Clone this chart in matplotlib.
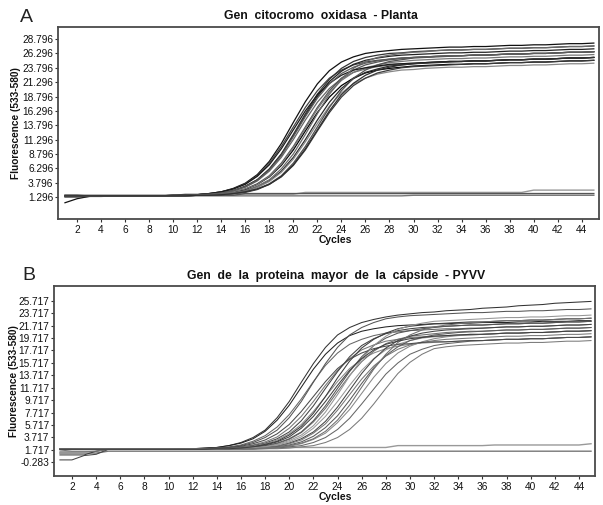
import matplotlib
matplotlib.use('Agg')
import matplotlib.pyplot as plt

# ---------------- data ----------------
cycles = list(range(1, 46))
x_ticks = [2, 4, 6, 8, 10, 12, 14, 16, 18, 20, 22, 24, 26, 28, 30, 32, 34, 36, 38, 40, 42, 44]
y_ticks_A = [1.296, 3.796, 6.296, 8.796, 11.296, 13.796, 16.296, 18.796, 21.296, 23.796, 26.296, 28.796]
y_ticks_B = [-0.283, 1.717, 3.717, 5.717, 7.717, 9.717, 11.717, 13.717, 15.717, 17.717, 19.717, 21.717, 23.717, 25.717]

title_A = "Gen  citocromo  oxidasa  - Planta"
title_B = "Gen  de  la  proteina  mayor  de  la  cápside  - PYVV"
y_label = "Fluorescence (533-580)"
x_label = "Cycles"

# amplification curves, panel A (one value per cycle 1..45)
curves_A = [
    [0.3, 1.0, 1.4, 1.5, 1.5, 1.5, 1.5, 1.5, 1.5, 1.6, 1.6, 1.7, 1.9, 2.2, 2.8, 3.7, 5.2, 7.5, 10.6, 14.3,
     17.9, 21.0, 23.3, 24.8, 25.7, 26.3, 26.6, 26.8, 27.0, 27.1, 27.2, 27.3, 27.4, 27.4, 27.5, 27.5, 27.6, 27.7, 27.7, 27.8,
     27.8, 27.9, 28.0, 28.0, 28.1],
    [1.5, 1.5, 1.5, 1.5, 1.5, 1.5, 1.5, 1.5, 1.5, 1.6, 1.6, 1.7, 1.9, 2.2, 2.7, 3.6, 5.0, 7.2, 10.1, 13.5,
     16.9, 19.8, 22.0, 23.4, 24.3, 24.8, 25.1, 25.3, 25.5, 25.6, 25.7, 25.8, 25.9, 25.9, 26.0, 26.0, 26.1, 26.2, 26.2, 26.3,
     26.3, 26.4, 26.5, 26.5, 26.6],
    [1.6, 1.6, 1.5, 1.5, 1.5, 1.5, 1.5, 1.5, 1.5, 1.5, 1.6, 1.7, 1.8, 2.0, 2.4, 3.1, 4.3, 6.1, 8.7, 12.0,
     15.5, 18.8, 21.4, 23.2, 24.4, 25.1, 25.5, 25.8, 26.0, 26.1, 26.2, 26.3, 26.4, 26.4, 26.5, 26.5, 26.6, 26.7, 26.7, 26.8,
     26.8, 26.9, 27.0, 27.0, 27.1],
    [1.5, 1.5, 1.5, 1.5, 1.5, 1.5, 1.5, 1.5, 1.5, 1.5, 1.6, 1.7, 1.8, 2.0, 2.4, 3.0, 4.1, 5.8, 8.2, 11.3,
     14.7, 17.8, 20.2, 21.9, 23.0, 23.6, 24.0, 24.3, 24.5, 24.6, 24.7, 24.8, 24.9, 24.9, 25.0, 25.0, 25.1, 25.2, 25.2, 25.3,
     25.3, 25.4, 25.5, 25.5, 25.6],
    [1.3, 1.3, 1.4, 1.5, 1.5, 1.5, 1.5, 1.5, 1.5, 1.5, 1.6, 1.7, 1.8, 2.0, 2.4, 3.2, 4.3, 6.2, 8.8, 12.2,
     15.8, 19.2, 21.8, 23.7, 24.9, 25.6, 26.0, 26.3, 26.4, 26.6, 26.7, 26.8, 26.9, 26.9, 27.0, 27.0, 27.1, 27.2, 27.2, 27.3,
     27.3, 27.4, 27.5, 27.5, 27.6],
    [1.5, 1.5, 1.5, 1.5, 1.5, 1.5, 1.5, 1.5, 1.5, 1.5, 1.6, 1.6, 1.7, 1.9, 2.2, 2.7, 3.6, 5.0, 7.2, 10.1,
     13.5, 16.9, 19.8, 22.0, 23.4, 24.3, 24.8, 25.2, 25.4, 25.6, 25.7, 25.8, 25.9, 25.9, 26.0, 26.0, 26.1, 26.2, 26.2, 26.3,
     26.3, 26.4, 26.5, 26.5, 26.6],
    [1.5, 1.5, 1.5, 1.5, 1.5, 1.5, 1.5, 1.5, 1.5, 1.5, 1.6, 1.6, 1.7, 1.9, 2.1, 2.6, 3.5, 4.8, 6.8, 9.5,
     12.8, 16.0, 18.7, 20.7, 22.0, 22.9, 23.4, 23.7, 23.9, 24.1, 24.2, 24.3, 24.4, 24.4, 24.5, 24.5, 24.6, 24.7, 24.7, 24.8,
     24.8, 24.9, 25.0, 25.0, 25.1],
    [1.5, 1.5, 1.5, 1.5, 1.5, 1.5, 1.5, 1.5, 1.5, 1.5, 1.6, 1.6, 1.7, 1.9, 2.2, 2.7, 3.5, 4.9, 7.0, 9.9,
     13.2, 16.6, 19.5, 21.6, 23.0, 23.8, 24.3, 24.7, 24.9, 25.1, 25.2, 25.3, 25.4, 25.4, 25.5, 25.5, 25.6, 25.7, 25.7, 25.8,
     25.8, 25.9, 26.0, 26.0, 26.1],
    [1.5, 1.5, 1.5, 1.5, 1.5, 1.5, 1.5, 1.5, 1.5, 1.5, 1.5, 1.6, 1.7, 1.8, 2.0, 2.4, 3.0, 4.1, 5.8, 8.2,
     11.3, 14.7, 17.8, 20.2, 21.9, 23.0, 23.6, 24.1, 24.3, 24.5, 24.7, 24.8, 24.9, 24.9, 25.0, 25.0, 25.1, 25.2, 25.2, 25.3,
     25.3, 25.4, 25.5, 25.5, 25.6],
    [1.5, 1.5, 1.5, 1.5, 1.5, 1.5, 1.5, 1.5, 1.5, 1.5, 1.5, 1.6, 1.7, 1.8, 2.0, 2.3, 3.0, 4.0, 5.6, 7.9,
     10.9, 14.1, 17.1, 19.4, 21.0, 22.0, 22.7, 23.1, 23.4, 23.5, 23.7, 23.8, 23.9, 23.9, 24.0, 24.0, 24.1, 24.2, 24.2, 24.3,
     24.3, 24.4, 24.5, 24.5, 24.6],
    [1.5, 1.5, 1.5, 1.5, 1.5, 1.5, 1.5, 1.5, 1.5, 1.5, 1.5, 1.6, 1.6, 1.7, 1.9, 2.1, 2.6, 3.5, 4.8, 6.8,
     9.5, 12.8, 16.0, 18.7, 20.7, 22.0, 22.9, 23.4, 23.8, 24.0, 24.1, 24.2, 24.3, 24.4, 24.5, 24.5, 24.6, 24.7, 24.7, 24.8,
     24.8, 24.9, 25.0, 25.0, 25.1],
    [1.5, 1.5, 1.5, 1.5, 1.5, 1.5, 1.5, 1.5, 1.5, 1.5, 1.5, 1.6, 1.6, 1.7, 1.9, 2.2, 2.7, 3.6, 5.0, 7.2,
     10.1, 13.5, 16.9, 19.8, 22.0, 23.4, 24.3, 24.9, 25.2, 25.5, 25.6, 25.7, 25.8, 25.9, 26.0, 26.0, 26.1, 26.2, 26.2, 26.3,
     26.3, 26.4, 26.5, 26.5, 26.6],
    [1.5, 1.5, 1.5, 1.5, 1.5, 1.5, 1.5, 1.5, 1.5, 1.6, 1.6, 1.7, 1.9, 2.2, 2.7, 3.5, 4.9, 6.9, 9.7, 13.0,
     16.3, 19.1, 21.1, 22.5, 23.4, 23.8, 24.1, 24.4, 24.5, 24.6, 24.7, 24.8, 24.9, 24.9, 25.0, 25.0, 25.1, 25.2, 25.2, 25.3,
     25.3, 25.4, 25.5, 25.5, 25.6],
    [1.5, 1.5, 1.5, 1.5, 1.5, 1.5, 1.5, 1.5, 1.5, 1.5, 1.5, 1.6, 1.7, 1.8, 2.0, 2.4, 3.2, 4.3, 6.2, 8.8,
     12.2, 15.8, 19.2, 21.8, 23.7, 24.9, 25.6, 26.0, 26.3, 26.5, 26.6, 26.8, 26.9, 26.9, 27.0, 27.0, 27.1, 27.2, 27.2, 27.3,
     27.3, 27.4, 27.5, 27.5, 27.6],
    [1.5, 1.5, 1.5, 1.5, 1.5, 1.5, 1.5, 1.5, 1.5, 1.6, 1.6, 1.7, 1.8, 2.0, 2.4, 3.1, 4.2, 6.0, 8.5, 11.8,
     15.3, 18.5, 21.0, 22.8, 23.9, 24.6, 25.0, 25.3, 25.5, 25.6, 25.7, 25.8, 25.9, 25.9, 26.0, 26.0, 26.1, 26.2, 26.2, 26.3,
     26.3, 26.4, 26.5, 26.5, 26.6],
    [1.5, 1.5, 1.5, 1.5, 1.5, 1.5, 1.5, 1.5, 1.5, 1.5, 1.5, 1.6, 1.6, 1.7, 1.9, 2.2, 2.7, 3.5, 4.9, 6.9,
     9.7, 13.0, 16.3, 19.1, 21.1, 22.5, 23.4, 23.9, 24.3, 24.5, 24.6, 24.7, 24.8, 24.9, 25.0, 25.0, 25.1, 25.2, 25.2, 25.3,
     25.3, 25.4, 25.5, 25.5, 25.6],
]

# negative controls, panel A
flat_A = [
    [1.4, 1.4, 1.4, 1.4, 1.5, 1.5, 1.5, 1.5, 1.5, 1.5, 1.5, 1.5, 1.5, 1.5, 1.5, 1.5, 1.5, 1.5, 1.5, 1.5,
     1.5, 1.5, 1.5, 1.5, 1.5, 1.5, 1.5, 1.5, 1.5, 1.6, 1.6, 1.6, 1.6, 1.6, 1.6, 1.6, 1.6, 1.6, 1.6, 1.6,
     1.6, 1.6, 1.6, 1.6, 1.6],
    [1.5, 1.5, 1.5, 1.5, 1.5, 1.5, 1.5, 1.5, 1.5, 1.5, 1.8, 1.8, 1.8, 1.8, 1.8, 1.8, 1.8, 1.8, 1.8, 1.8,
     2.1, 2.1, 2.1, 2.1, 2.1, 2.1, 2.1, 2.1, 2.1, 2.1, 2.1, 2.1, 2.1, 2.1, 2.1, 2.1, 2.1, 2.1, 2.1, 2.5,
     2.5, 2.5, 2.5, 2.5, 2.5],
    [1.6, 1.6, 1.6, 1.6, 1.6, 1.6, 1.6, 1.6, 1.6, 1.6, 1.6, 1.6, 1.6, 1.6, 1.6, 1.9, 1.9, 1.9, 1.9, 1.9,
     1.9, 1.9, 1.9, 1.9, 1.9, 1.9, 1.9, 1.9, 1.9, 1.9, 1.9, 1.9, 1.9, 1.9, 1.9, 1.9, 1.9, 1.9, 1.9, 1.9,
     1.9, 1.9, 1.9, 1.9, 1.9],
]

# amplification curves, panel B
curves_B = [
    [1.8, 1.8, 1.8, 1.8, 1.8, 1.8, 1.8, 1.8, 1.8, 1.8, 1.9, 1.9, 2.0, 2.1, 2.4, 2.9, 3.7, 4.9, 6.9, 9.5,
     12.6, 15.6, 18.2, 20.2, 21.4, 22.2, 22.7, 23.1, 23.4, 23.6, 23.8, 23.9, 24.1, 24.2, 24.3, 24.5, 24.6, 24.7, 24.9, 25.0,
     25.1, 25.3, 25.4, 25.5, 25.6],
    [1.9, 1.9, 1.8, 1.8, 1.8, 1.8, 1.8, 1.8, 1.8, 1.8, 1.9, 1.9, 2.0, 2.1, 2.4, 2.8, 3.5, 4.7, 6.5, 8.9,
     11.8, 14.7, 17.1, 18.9, 20.1, 20.8, 21.2, 21.5, 21.7, 21.8, 21.9, 22.0, 22.0, 22.1, 22.1, 22.2, 22.2, 22.2, 22.3, 22.3,
     22.4, 22.4, 22.4, 22.5, 22.5],
    [1.8, 1.8, 1.8, 1.8, 1.8, 1.8, 1.8, 1.8, 1.8, 1.8, 1.8, 1.9, 1.9, 2.0, 2.2, 2.5, 3.1, 4.0, 5.4, 7.4,
     9.9, 12.7, 15.3, 17.3, 18.7, 19.5, 20.1, 20.5, 20.7, 20.9, 21.0, 21.1, 21.2, 21.2, 21.3, 21.3, 21.4, 21.5, 21.5, 21.6,
     21.6, 21.7, 21.8, 21.8, 21.9],
    [1.8, 1.8, 1.8, 1.8, 1.8, 1.8, 1.8, 1.8, 1.8, 1.8, 1.8, 1.9, 1.9, 2.0, 2.1, 2.4, 2.9, 3.7, 4.9, 6.9,
     9.5, 12.6, 15.6, 18.2, 20.2, 21.4, 22.2, 22.8, 23.1, 23.3, 23.4, 23.5, 23.6, 23.7, 23.8, 23.8, 23.9, 24.0, 24.0, 24.1,
     24.1, 24.2, 24.3, 24.3, 24.4],
    [1.4, 1.4, 1.4, 1.5, 1.8, 1.8, 1.8, 1.8, 1.8, 1.8, 1.8, 1.8, 1.9, 1.9, 2.0, 2.2, 2.5, 3.0, 3.8, 5.2,
     7.1, 9.5, 12.1, 14.5, 16.4, 17.8, 18.6, 19.2, 19.5, 19.8, 19.9, 20.0, 20.1, 20.2, 20.3, 20.3, 20.4, 20.5, 20.5, 20.6,
     20.6, 20.7, 20.8, 20.8, 20.9],
    [1.8, 1.8, 1.8, 1.8, 1.8, 1.8, 1.8, 1.8, 1.8, 1.8, 1.8, 1.8, 1.9, 1.9, 2.0, 2.1, 2.4, 2.8, 3.5, 4.6,
     6.4, 8.8, 11.6, 14.3, 16.7, 18.5, 19.6, 20.4, 20.9, 21.2, 21.4, 21.5, 21.6, 21.7, 21.8, 21.8, 21.9, 22.0, 22.0, 22.1,
     22.1, 22.2, 22.3, 22.3, 22.4],
    [1.8, 1.8, 1.8, 1.8, 1.8, 1.8, 1.8, 1.8, 1.8, 1.8, 1.8, 1.8, 1.8, 1.9, 2.0, 2.1, 2.3, 2.7, 3.3, 4.3,
     5.8, 7.9, 10.3, 12.7, 14.8, 16.3, 17.3, 18.0, 18.4, 18.7, 18.9, 19.0, 19.1, 19.2, 19.3, 19.3, 19.4, 19.5, 19.5, 19.6,
     19.6, 19.7, 19.8, 19.8, 19.9],
    [0.9, 0.9, 0.9, 1.5, 1.8, 1.8, 1.8, 1.8, 1.8, 1.8, 1.8, 1.8, 1.8, 1.9, 1.9, 2.0, 2.2, 2.6, 3.1, 4.1,
     5.5, 7.6, 10.3, 13.3, 16.0, 18.1, 19.5, 20.5, 21.2, 21.6, 21.8, 22.0, 22.1, 22.2, 22.3, 22.3, 22.4, 22.5, 22.5, 22.6,
     22.6, 22.7, 22.8, 22.8, 22.9],
    [1.8, 1.8, 1.8, 1.8, 1.8, 1.8, 1.8, 1.8, 1.8, 1.8, 1.8, 1.8, 1.8, 1.9, 1.9, 2.0, 2.1, 2.3, 2.7, 3.4,
     4.5, 6.2, 8.4, 11.1, 13.7, 15.9, 17.6, 18.8, 19.5, 20.0, 20.2, 20.4, 20.6, 20.7, 20.8, 20.8, 20.9, 21.0, 21.0, 21.1,
     21.1, 21.2, 21.3, 21.3, 21.4],
    [1.8, 1.8, 1.8, 1.8, 1.8, 1.8, 1.8, 1.8, 1.8, 1.8, 1.8, 1.8, 1.8, 1.9, 1.9, 2.0, 2.1, 2.4, 2.8, 3.5,
     4.6, 6.4, 8.8, 11.6, 14.3, 16.7, 18.5, 19.7, 20.5, 20.9, 21.2, 21.4, 21.6, 21.7, 21.8, 21.8, 21.9, 22.0, 22.0, 22.1,
     22.1, 22.2, 22.3, 22.3, 22.4],
    [1.8, 1.8, 1.8, 1.8, 1.8, 1.8, 1.8, 1.8, 1.8, 1.8, 1.8, 1.8, 1.8, 1.8, 1.9, 1.9, 2.0, 2.2, 2.5, 3.0,
     3.8, 5.2, 7.1, 9.5, 12.1, 14.5, 16.4, 17.8, 18.7, 19.3, 19.7, 19.9, 20.0, 20.2, 20.2, 20.3, 20.4, 20.5, 20.5, 20.6,
     20.6, 20.7, 20.8, 20.8, 20.9],
    [0.1, 0.1, 0.8, 1.0, 1.8, 1.8, 1.8, 1.8, 1.8, 1.8, 1.8, 1.8, 1.8, 1.8, 1.9, 1.9, 2.0, 2.1, 2.3, 2.8,
     3.5, 4.6, 6.3, 8.6, 11.3, 14.0, 16.3, 18.1, 19.3, 20.0, 20.5, 20.8, 21.0, 21.1, 21.2, 21.3, 21.4, 21.5, 21.5, 21.6,
     21.6, 21.7, 21.8, 21.8, 21.9],
    [1.7, 1.5, 1.5, 1.5, 1.8, 1.8, 1.8, 1.8, 1.8, 1.8, 1.8, 1.8, 1.8, 1.8, 1.9, 1.9, 2.0, 2.1, 2.3, 2.7,
     3.3, 4.4, 5.9, 8.1, 10.6, 13.1, 15.2, 16.8, 17.9, 18.6, 19.0, 19.3, 19.5, 19.6, 19.7, 19.8, 19.9, 20.0, 20.0, 20.1,
     20.1, 20.2, 20.3, 20.3, 20.4],
    [1.8, 1.8, 1.8, 1.8, 1.8, 1.8, 1.8, 1.8, 1.8, 1.8, 1.8, 1.8, 1.8, 1.8, 1.8, 1.9, 1.9, 2.0, 2.2, 2.5,
     3.0, 3.9, 5.3, 7.2, 9.7, 12.4, 14.9, 16.9, 18.3, 19.3, 19.8, 20.2, 20.4, 20.6, 20.7, 20.8, 20.9, 21.0, 21.0, 21.1,
     21.1, 21.2, 21.3, 21.3, 21.4],
    [1.8, 1.8, 1.8, 1.8, 1.8, 1.8, 1.8, 1.8, 1.8, 1.8, 1.8, 1.8, 1.8, 1.8, 1.8, 1.9, 1.9, 2.0, 2.1, 2.3,
     2.7, 3.4, 4.4, 6.1, 8.2, 10.8, 13.4, 15.6, 17.3, 18.4, 19.1, 19.6, 19.9, 20.1, 20.2, 20.3, 20.4, 20.5, 20.5, 20.6,
     20.6, 20.7, 20.8, 20.8, 20.9],
    [1.8, 1.8, 1.8, 1.8, 1.8, 1.8, 1.8, 1.8, 1.8, 1.8, 1.8, 1.8, 1.8, 1.8, 1.8, 1.8, 1.9, 1.9, 2.0, 2.2,
     2.4, 2.9, 3.7, 5.0, 6.8, 9.1, 11.5, 13.9, 15.7, 17.1, 17.9, 18.5, 18.8, 19.0, 19.2, 19.3, 19.4, 19.5, 19.5, 19.6,
     19.6, 19.7, 19.8, 19.8, 19.9],
    [1.8, 1.8, 1.8, 1.8, 1.8, 1.8, 1.8, 1.8, 1.8, 1.8, 1.8, 1.8, 1.8, 1.8, 1.8, 1.8, 1.8, 1.9, 1.9, 2.0,
     2.2, 2.4, 2.9, 3.7, 5.0, 6.8, 9.1, 11.6, 14.0, 15.8, 17.1, 18.0, 18.3, 18.5, 18.6, 18.7, 18.8, 18.9, 18.9, 19.0,
     19.0, 19.1, 19.2, 19.2, 19.3],
    [1.8, 1.8, 1.8, 1.8, 1.8, 1.8, 1.8, 1.8, 1.8, 1.8, 1.8, 1.8, 1.9, 2.0, 2.1, 2.3, 2.7, 3.3, 4.3, 5.8,
     7.9, 10.3, 12.7, 14.8, 16.3, 17.3, 18.0, 18.4, 18.7, 18.8, 19.0, 19.1, 19.1, 19.2, 19.3, 19.3, 19.4, 19.5, 19.5, 19.6,
     19.6, 19.7, 19.8, 19.8, 19.9],
    [1.8, 1.8, 1.8, 1.8, 1.8, 1.8, 1.8, 1.8, 1.8, 1.8, 1.8, 1.8, 1.8, 1.8, 1.9, 1.9, 2.1, 2.2, 2.6, 3.2,
     4.1, 5.6, 7.8, 10.6, 13.6, 16.3, 18.5, 20.0, 21.1, 21.7, 22.1, 22.4, 22.5, 22.6, 22.7, 22.8, 22.9, 23.0, 23.0, 23.1,
     23.1, 23.2, 23.3, 23.3, 23.4],
    [1.8, 1.8, 1.8, 1.8, 1.8, 1.8, 1.8, 1.8, 1.8, 1.8, 1.8, 1.8, 1.8, 1.8, 1.8, 1.9, 1.9, 2.0, 2.1, 2.4,
     2.8, 3.5, 4.7, 6.5, 8.9, 11.8, 14.7, 17.1, 19.0, 20.2, 21.0, 21.5, 21.8, 22.0, 22.2, 22.3, 22.4, 22.5, 22.5, 22.6,
     22.6, 22.7, 22.8, 22.8, 22.9],
    [1.8, 1.8, 1.8, 1.8, 1.8, 1.8, 1.8, 1.8, 1.8, 1.8, 1.8, 1.8, 1.8, 1.9, 1.9, 2.0, 2.2, 2.5, 3.0, 3.8,
     5.2, 7.1, 9.5, 12.1, 14.5, 16.4, 17.8, 18.7, 19.2, 19.6, 19.8, 20.0, 20.1, 20.2, 20.3, 20.3, 20.4, 20.5, 20.5, 20.6,
     20.6, 20.7, 20.8, 20.8, 20.9],
]

# negative controls, panel B
flat_B = [
    [1.2, 1.2, 1.2, 1.2, 1.5, 1.5, 1.5, 1.5, 1.5, 1.5, 1.5, 1.5, 1.5, 1.5, 1.5, 1.5, 1.5, 1.5, 1.5, 1.5,
     1.5, 1.5, 1.5, 1.5, 1.5, 1.5, 1.5, 1.5, 1.5, 1.5, 1.5, 1.5, 1.5, 1.5, 1.5, 1.5, 1.5, 1.5, 1.5, 1.5,
     1.5, 1.5, 1.5, 1.5, 1.5],
    [1.8, 1.8, 1.8, 1.8, 1.8, 1.8, 1.8, 1.8, 1.8, 1.8, 1.8, 1.8, 1.8, 1.8, 1.8, 2.1, 2.1, 2.1, 2.1, 2.1,
     2.1, 2.1, 2.1, 2.1, 2.1, 2.1, 2.1, 2.1, 2.4, 2.4, 2.4, 2.4, 2.4, 2.4, 2.4, 2.4, 2.5, 2.5, 2.5, 2.5,
     2.5, 2.5, 2.5, 2.5, 2.7],
]

colors_A = ['#111111', '#444444', '#222222', '#666666', '#333333', '#555555', '#000000',
            '#777777', '#2a2a2a', '#888888', '#3a3a3a', '#505050', '#1a1a1a', '#6a6a6a',
            '#5c5c5c', '#2f2f2f']
colors_B = ['#333333', '#222222', '#666666', '#555555', '#777777', '#444444', '#888888',
            '#3c3c3c', '#6c6c6c', '#555555', '#999999', '#444444', '#777777', '#5a5a5a',
            '#888888', '#666666', '#7a7a7a', '#4a4a4a', '#959595', '#6f6f6f', '#3f3f3f']
flat_colors = ['#777777', '#999999', '#555555', '#888888']

# ---------------- figure ----------------
W, H = 603, 505
fig = plt.figure(figsize=(W / 100, H / 100), dpi=100)

tick_font = ['Liberation Sans', 'DejaVu Sans']
bold_font = ['Liberation Sans', 'DejaVu Sans']


def fx(px):
    return px / W


def fy(py):
    return 1 - py / H


def make_axes(left, top, right, bottom):
    return fig.add_axes([fx(left), fy(bottom), (right - left) / W, (bottom - top) / H])


def style(ax, yticks, xlim, ylim):
    ax.set_xlim(*xlim)
    ax.set_ylim(*ylim)
    ax.set_xticks(x_ticks)
    ax.set_xticklabels([str(t) for t in x_ticks], fontsize=7.3, family=tick_font)
    ax.set_yticks(yticks)
    ax.set_yticklabels(['%.3f' % t for t in yticks], fontsize=7.3, family=tick_font)
    ax.tick_params(axis='both', direction='out', length=2.5, width=0.8, color='#333333',
                   labelcolor='#111111')
    ax.tick_params(axis='x', pad=1.5)
    ax.tick_params(axis='y', pad=0.8)
    for s in ax.spines.values():
        s.set_color('#4a4a4a')
        s.set_linewidth(1.3)


# Panel A
axA = make_axes(58, 27, 599, 219)
for ys, c in zip(flat_A, flat_colors):
    axA.plot(cycles, ys, color=c, lw=1.0)
for ys, c in zip(curves_A, colors_A):
    axA.plot(cycles, ys, color=c, lw=0.9)
style(axA, y_ticks_A, (0.42, 45.43), (-2.53, 30.9))

# Panel B
axB = make_axes(54, 286, 595, 476)
for ys, c in zip(flat_B, flat_colors):
    axB.plot(cycles, ys, color=c, lw=1.0)
for ys, c in zip(curves_B, colors_B):
    axB.plot(cycles, ys, color=c, lw=0.75)
style(axB, y_ticks_B, (0.51, 45.33), (-2.49, 28.08))

# texts
fig.text(fx(20), fy(21.5), 'A', fontsize=14, family=bold_font, color='#222222', va='baseline', ha='left')
fig.text(fx(22), fy(280), 'B', fontsize=14, family=bold_font, color='#222222', va='baseline', ha='left')
fig.text(fx(321), fy(19.3), title_A, fontsize=8.8, fontweight='bold', family=bold_font,
         color='#111111', ha='center', va='baseline')
fig.text(fx(336), fy(279), title_B, fontsize=8.8, fontweight='bold', family=bold_font,
         color='#111111', ha='center', va='baseline')
fig.text(fx(16), fy(123), y_label, fontsize=7.3, fontweight='bold', family=bold_font,
         color='#111111', rotation=90, ha='center', va='center')
fig.text(fx(14), fy(381), y_label, fontsize=7.3, fontweight='bold', family=bold_font,
         color='#111111', rotation=90, ha='center', va='center')
fig.text(fx(335), fy(243), x_label, fontsize=7.5, fontweight='bold', family=bold_font,
         color='#111111', ha='center', va='baseline')
fig.text(fx(335), fy(500.5), x_label, fontsize=7.5, fontweight='bold', family=bold_font,
         color='#111111', ha='center', va='baseline')

fig.savefig('out.png', dpi=100)
